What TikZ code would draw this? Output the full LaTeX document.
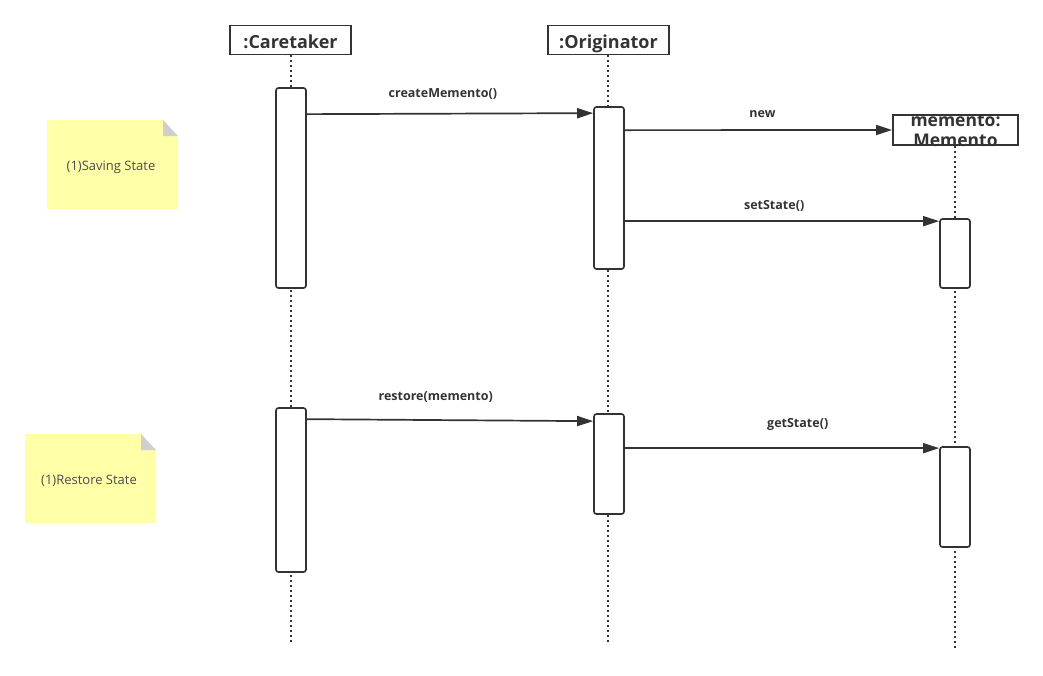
\documentclass[tikz,border=0pt]{standalone}
\usepackage{fontspec}
\setmainfont{Open Sans}
\usepackage{xcolor}
\usetikzlibrary{arrows.meta}

\definecolor{linegray}{HTML}{333333}
\definecolor{noteyellow}{HTML}{FFFFA8}
\definecolor{foldgray}{HTML}{CFCFCF}

\begin{document}
\begin{tikzpicture}[x=1pt, y=-1pt,
  head/.style={draw=linegray, line width=1.8pt, fill=white, minimum height=29pt, inner sep=0pt, text height=17pt, text depth=1pt, font=\fontsize{18}{20}\selectfont\bfseries, text=linegray},
  act/.style={draw=linegray, line width=1.7pt, fill=white, rounded corners=2.5pt, minimum width=30pt, inner sep=0pt},
  life/.style={draw=linegray, line width=1.6pt, dash pattern=on 2pt off 3pt},
  msg/.style={draw=linegray, line width=1.7pt, -{Triangle[length=16pt,width=10pt]}},
  msglabel/.style={font=\fontsize{12.5}{14}\selectfont\bfseries, text=linegray},
  notetext/.style={font=\fontsize{13}{15}\selectfont, text=black!70}
]
  \useasboundingbox (0,0) rectangle (1043,675);

  % Draw the notes
  \fill[noteyellow] (47,120) -- (163,120) -- (178,136) -- (178,209) -- (47,209) -- cycle;
  \fill[foldgray] (163,120) -- (163,136) -- (178,136) -- cycle;
  \node[notetext] (savenote) at (111,167) {(1)Saving State};

  \fill[noteyellow] (25,434) -- (141,434) -- (156,450) -- (156,523) -- (25,523) -- cycle;
  \fill[foldgray] (141,434) -- (141,450) -- (156,450) -- cycle;
  \node[notetext] (restorenote) at (89,481) {(1)Restore State};

  % Draw the objects and their lifelines
  \node[head, minimum width=121pt] (caretaker) at (290.5,40) {:Caretaker};
  \node[head, minimum width=121pt] (originator) at (608.5,40) {:Originator};
  \node[head, minimum width=125pt, minimum height=30pt] (memento) at (955.5,130) {};
  \node[font=\fontsize{17.5}{20}\selectfont\bfseries, text=linegray, align=center, inner sep=0pt] (mementotext) at (955.5,131) {memento:\\Memento};

  \coordinate (ctend) at (291,645);
  \coordinate (orend) at (608,645);
  \coordinate (meend) at (955,650);
  \draw[life] (caretaker.south -| ctend) -- (ctend);
  \draw[life] (originator.south -| orend) -- (orend);
  \draw[life] (memento.south -| meend) -- (meend);

  % Fill in the activation bars
  \node[act, minimum height=200pt] (ct1) at (291,188) {};
  \node[act, minimum height=164pt] (ct2) at (291,490) {};
  \node[act, minimum height=162pt] (or1) at (609,188) {};
  \node[act, minimum height=100pt] (or2) at (609,464) {};
  \node[act, minimum height=69pt] (me1) at (955,253.5) {};
  \node[act, minimum height=100pt] (me2) at (955,497) {};

  % Draw the messages
  \draw[msg] ([yshift=-27pt]ct1.north east) -- ([yshift=-7pt]or1.north west)
    node[msglabel, pos=0.475, yshift=20pt] {createMemento()};
  \draw[msg] ([yshift=-24pt]or1.north east) -- (memento.west)
    node[msglabel, pos=0.515, yshift=16pt] {new};
  \draw[msg] ([yshift=-115pt]or1.north east) -- ([yshift=-3pt]me1.north west)
    node[msglabel, pos=0.475, yshift=15pt] {setState()};
  \draw[msg] ([yshift=-12pt]ct2.north east) -- ([yshift=-8pt]or2.north west)
    node[msglabel, pos=0.45, yshift=23pt] {restore(memento)};
  \draw[msg] ([yshift=-35pt]or2.north east) -- ([yshift=-2pt]me2.north west)
    node[msglabel, pos=0.55, yshift=24pt] {getState()};
\end{tikzpicture}
\end{document}
